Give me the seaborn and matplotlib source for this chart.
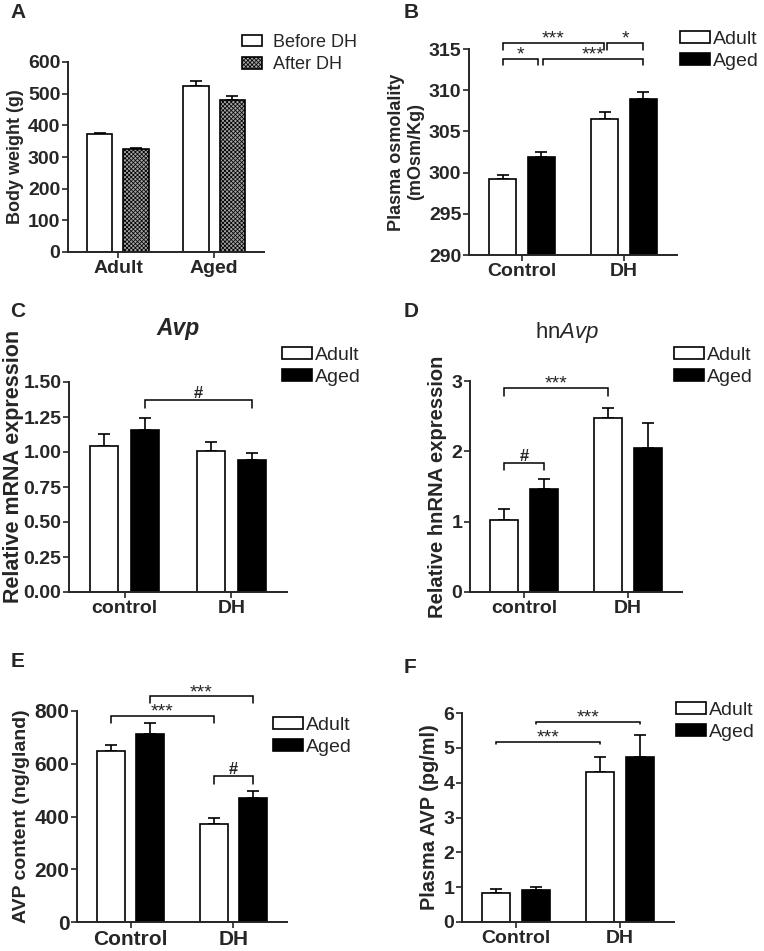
import numpy as np
import pandas as pd
import matplotlib.pyplot as plt
import seaborn as sns
from matplotlib.patches import Patch
from matplotlib.container import BarContainer

sns.set_style('ticks')
plt.rcParams['font.family'] = ['Liberation Sans', 'DejaVu Sans']
plt.rcParams['mathtext.fontset'] = 'custom'
plt.rcParams['mathtext.rm'] = 'Liberation Sans'
plt.rcParams['mathtext.it'] = 'Liberation Sans:italic'
plt.rcParams['hatch.color'] = '#1e1e1e'
plt.rcParams['hatch.linewidth'] = 0.55

# A - body weight
a_groups = ['Adult', 'Aged']
a_series = ['Before DH', 'After DH']
a_before = [373, 523]
a_before_err = [3, 16]
a_after = [324, 481]
a_after_err = [4, 13]

# B - plasma osmolality
b_groups = ['Control', 'DH']
b_adult = [299.2, 306.5]
b_adult_err = [0.5, 0.9]
b_aged = [301.95, 308.96]
b_aged_err = [0.6, 0.8]

# C - Avp mRNA
c_groups = ['control', 'DH']
c_adult = [1.04, 1.005]
c_adult_err = [0.09, 0.066]
c_aged = [1.155, 0.94]
c_aged_err = [0.09, 0.053]

# D - hnAvp
d_groups = ['control', 'DH']
d_adult = [1.03, 2.47]
d_adult_err = [0.15, 0.14]
d_aged = [1.46, 2.05]
d_aged_err = [0.15, 0.35]

# E - AVP content
e_groups = ['Control', 'DH']
e_adult = [647, 371]
e_adult_err = [23, 24]
e_aged = [714, 472]
e_aged_err = [40, 25]

# F - plasma AVP
f_groups = ['Control', 'DH']
f_adult = [0.84, 4.30]
f_adult_err = [0.12, 0.43]
f_aged = [0.91, 4.75]
f_aged_err = [0.09, 0.63]

age_series = ['Adult', 'Aged']
after_grey = '#a4a4a4'

fig = plt.figure(figsize=(7.64, 9.51), dpi=100)


def panel(rect, groups, series, vals, errs, ylim, yticks, ylabel, colors,
          hatch=None, ylsize=13, ticksize=14):
    ax = fig.add_axes(rect)
    df = pd.DataFrame({
        'group': groups * len(series),
        'series': [s for s in series for _ in groups],
        'value': [v for vv in vals for v in vv],
    })
    sns.barplot(data=df, x='group', y='value', hue='series', hue_order=series,
                palette=dict(zip(series, colors)), saturation=1, width=0.76, gap=0.3,
                errorbar=None, edgecolor='black', linewidth=1.2, legend=False, ax=ax)
    bars = [c for c in ax.containers if isinstance(c, BarContainer)]
    centers = []
    for h, cont in enumerate(bars):
        row = []
        for c, bar in enumerate(cont):
            x = bar.get_x() + bar.get_width() / 2
            y = bar.get_height()
            ax.errorbar(x, y, yerr=[[0], [errs[h][c]]], fmt='none', ecolor='black',
                        elinewidth=1.2, capsize=4.5, capthick=1.2, zorder=1)
            bar.set_zorder(2)
            if hatch and hatch[h]:
                bar.set_hatch(hatch[h])
            row.append(x)
        centers.append(row)
    ax.set_xlim(-0.52, 1.52)
    ax.set_ylim(*ylim)
    ax.set_yticks(yticks)
    ax.set_xlabel('')
    ax.set_ylabel(ylabel, fontsize=ylsize, fontweight='bold', labelpad=3)
    sns.despine(ax=ax)
    for s in ['left', 'bottom']:
        ax.spines[s].set_linewidth(1.4)
    ax.tick_params(length=4, width=1.2, pad=1.5, labelsize=ticksize)
    for t in ax.get_xticklabels() + ax.get_yticklabels():
        t.set_fontweight('bold')
    return ax, centers


def bracket(ax, centers, a, b, y, drop, label, dx1=0.0, dx2=0.0):
    x1 = centers[a[1]][a[0]] + dx1
    x2 = centers[b[1]][b[0]] + dx2
    ax.plot([x1, x1, x2, x2], [y - drop, y, y, y - drop], color='black', lw=1.1,
            clip_on=False, solid_joinstyle='miter')
    if label == '#':
        ax.annotate(label, ((x1 + x2) / 2, y), xytext=(0, 1.5), textcoords='offset points',
                    ha='center', va='baseline', fontsize=12, fontweight='bold',
                    annotation_clip=False)
    else:
        ax.annotate(label, ((x1 + x2) / 2, y), xytext=(0, -0.5), textcoords='offset points',
                    ha='center', va='baseline', fontsize=14, annotation_clip=False)


def legend(ax, labels, colors, fx, fy, hatch=None, hlen=1.55, tpad=0.12, size=14,
           spacing=0.25):
    handles = []
    for i, (l, c) in enumerate(zip(labels, colors)):
        handles.append(Patch(facecolor=c, edgecolor='black', linewidth=1.2,
                             hatch=hatch[i] if hatch else None))
    ax.legend(handles, labels, loc='upper left', bbox_to_anchor=(fx, fy),
              bbox_transform=fig.transFigure, frameon=False, fontsize=size,
              handlelength=hlen, handleheight=0.6, handletextpad=tpad,
              labelspacing=spacing, borderpad=0, borderaxespad=0)


W, H = 764, 951


def rect(l, t, r, b):
    return [l / W, 1 - b / H, (r - l) / W, (b - t) / H]


# A
axA, cA = panel(rect(68, 62, 264, 252), a_groups, a_series, [a_before, a_after],
                [a_before_err, a_after_err], (0, 600), np.arange(0, 601, 100),
                'Body weight (g)', ['white', after_grey], hatch=[None, 'xxxxxxxx'])
legend(axA, a_series, ['white', after_grey], 242 / W, 1 - 34 / H,
       hatch=[None, 'xxxxxxxx'], hlen=1.1, tpad=0.6, size=13, spacing=0.3)

# B
axB, cB = panel(rect(469, 49, 677, 255), b_groups, age_series, [b_adult, b_aged],
                [b_adult_err, b_aged_err], (290, 315), np.arange(290, 316, 5),
                'Plasma osmolality\n(mOsm/Kg)', ['white', 'black'])
bracket(axB, cB, (0, 0), (1, 0), 315.73, 0.9, '***', 0, -0.01)
bracket(axB, cB, (1, 0), (1, 1), 315.73, 0.9, '*', 0.025, 0)
bracket(axB, cB, (0, 0), (0, 1), 313.8, 0.8, '*', 0, -0.03)
bracket(axB, cB, (0, 1), (1, 1), 313.8, 0.8, '***', 0.02, 0)
legend(axB, age_series, ['white', 'black'], 680 / W, 1 - 31 / H)

# C
axC, cC = panel(rect(69, 382, 287, 592), c_groups, age_series, [c_adult, c_aged],
                [c_adult_err, c_aged_err], (0, 1.5), np.arange(0, 1.51, 0.25),
                'Relative mRNA expression', ['white', 'black'], ylsize=15.5)
axC.yaxis.set_label_coords(-0.205, 0.6)
axC.set_yticklabels(['%.2f' % v for v in np.arange(0, 1.51, 0.25)], fontweight='bold')
axC.set_title('Avp', fontsize=16.5, fontweight='bold', fontstyle='italic', pad=34)
bracket(axC, cC, (0, 1), (1, 1), 1.369, 0.052, '#')
legend(axC, age_series, ['white', 'black'], 282 / W, 1 - 347 / H)

# D
axD, cD = panel(rect(470, 381, 682, 592), d_groups, age_series, [d_adult, d_aged],
                [d_adult_err, d_aged_err], (0, 3), [0, 1, 2, 3],
                'Relative hnRNA expression', ['white', 'black'], ylsize=14.5)
axD.set_title(r'hn$\mathit{Avp}$', fontsize=16, pad=31, x=0.46)
bracket(axD, cD, (0, 0), (1, 0), 2.90, 0.12, '***')
bracket(axD, cD, (0, 0), (0, 1), 1.83, 0.09, '#')
legend(axD, age_series, ['white', 'black'], 674 / W, 1 - 347 / H)

# E
axE, cE = panel(rect(77, 711, 287, 922), e_groups, age_series, [e_adult, e_aged],
                [e_adult_err, e_aged_err], (0, 800), np.arange(0, 801, 200),
                'AVP content (ng/gland)', ['white', 'black'], ylsize=14, ticksize=15)
bracket(axE, cE, (0, 0), (1, 0), 781, 27, '***')
bracket(axE, cE, (0, 1), (1, 1), 855, 25, '***')
bracket(axE, cE, (1, 0), (1, 1), 553, 28, '#')
legend(axE, age_series, ['white', 'black'], 273 / W, 1 - 717 / H)

# F
axF, cF = panel(rect(462, 713, 674, 922), f_groups, age_series, [f_adult, f_aged],
                [f_adult_err, f_aged_err], (0, 6), np.arange(0, 7, 1),
                'Plasma AVP (pg/ml)', ['white', 'black'], ylsize=14.3)
bracket(axF, cF, (0, 0), (1, 0), 5.18, 0.07, '***')
bracket(axF, cF, (0, 1), (1, 1), 5.74, 0.07, '***')
legend(axF, age_series, ['white', 'black'], 676 / W, 1 - 702 / H)

for letter, x, y in [('A', 10, 18), ('B', 404, 18), ('C', 10, 317), ('D', 404, 317),
                     ('E', 11, 667), ('F', 404, 673)]:
    fig.text(x / W, 1 - y / H, letter, fontsize=15, fontweight='bold', va='baseline')

fig.savefig('out.png', dpi=100)
